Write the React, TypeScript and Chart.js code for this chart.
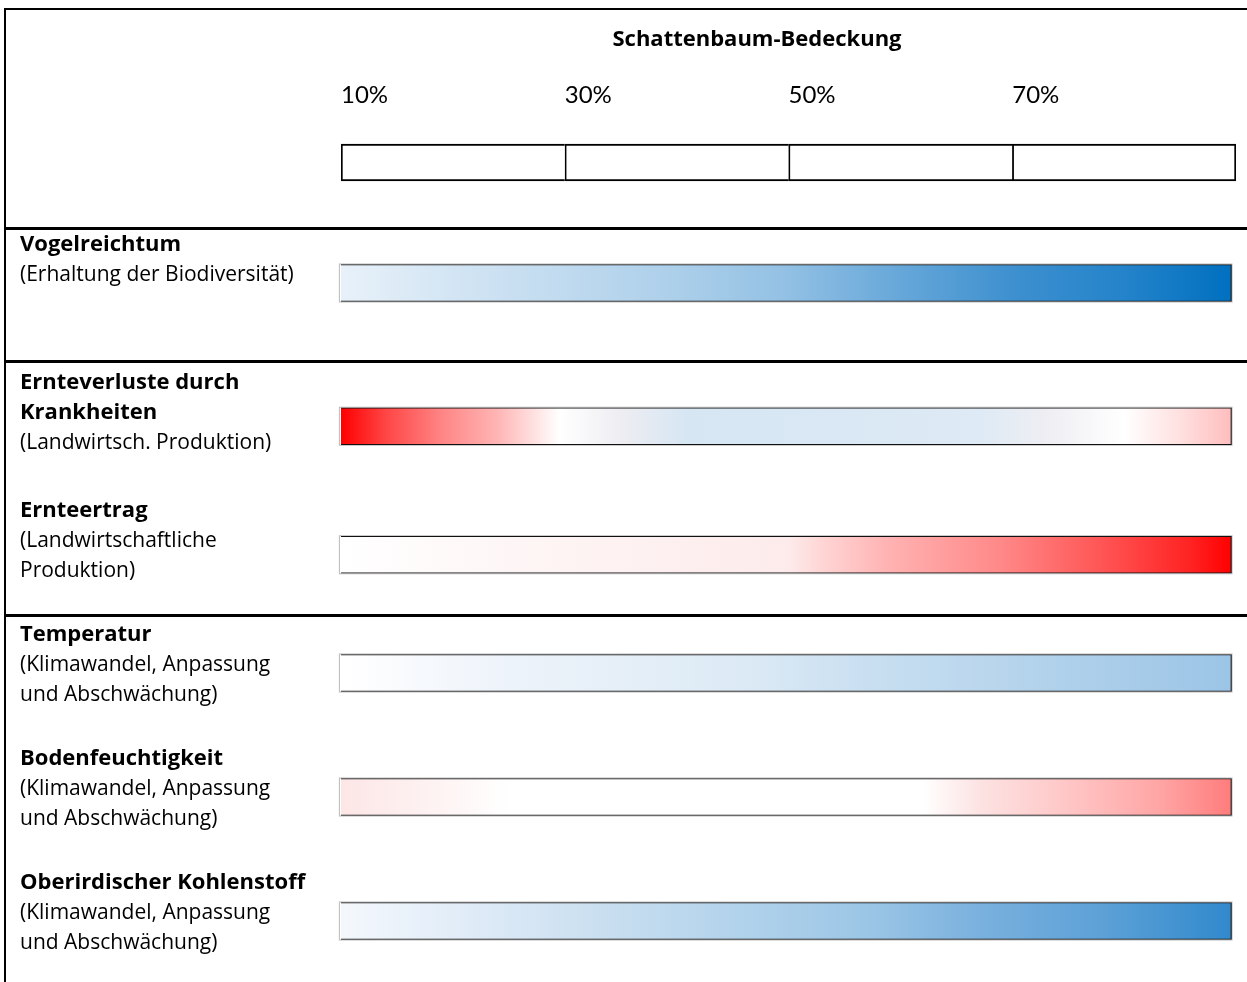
import React, { useEffect, useRef } from "react";
import { Chart, registerables } from "chart.js";

Chart.register(...registerables);

const TEXT_FONT = "'Open Sans', 'Noto Sans', sans-serif";
const TICK_FONT = "Lato, 'Open Sans', sans-serif";

// Shade-tree cover axis
const coverTitle = "Schattenbaum-Bedeckung";
const coverRange = [10, 90];
const coverTicks = [10, 30, 50, 70];
const coverTickLabels = ["10%", "30%", "50%", "70%"];
const coverBands: [number, number][] = [
  [10, 30],
  [30, 50],
  [50, 70],
  [70, 90],
];

// Extent of each indicator strip along the cover axis (%)
const indicatorSpan: [number, number] = [9.9, 89.6];

// Indicator names and their context
const indicatorTitles = [
  ["Vogelreichtum"],
  ["Ernteverluste durch", "Krankheiten"],
  ["Ernteertrag"],
  ["Temperatur"],
  ["Bodenfeuchtigkeit"],
  ["Oberirdischer Kohlenstoff"],
];
const indicatorNotes = [
  ["(Erhaltung der Biodiversität)"],
  ["(Landwirtsch. Produktion)"],
  ["(Landwirtschaftliche", "Produktion)"],
  ["(Klimawandel, Anpassung", "und Abschwächung)"],
  ["(Klimawandel, Anpassung", "und Abschwächung)"],
  ["(Klimawandel, Anpassung", "und Abschwächung)"],
];

// Colour of each indicator along the cover axis: [cover %, colour]
const birdStops: [number, string][] = [
  [10, "#E8F1F9"], [20, "#D3E5F4"], [30, "#C0DAEF"], [40, "#ACCFEA"],
  [50, "#92C0E4"], [60, "#66A7D9"], [70, "#3E90CF"], [80, "#2483CA"], [89.6, "#0070C0"],
];
const diseaseStops: [number, string][] = [
  [10, "#FF0000"], [14, "#FF4545"], [19, "#FF8585"], [24, "#FFB5B5"], [29.5, "#FFFFFF"],
  [35, "#EEEDF2"], [41, "#D6E6F3"], [55, "#D9E8F4"], [67, "#DEEAF5"], [73, "#EEEEF3"],
  [80, "#FFFFFF"], [85, "#FFE0E0"], [89.6, "#FFBDBD"],
];
const yieldStops: [number, string][] = [
  [10, "#FFFFFF"], [25, "#FEF6F6"], [50, "#FDEBEB"], [53, "#FFD5D5"], [59, "#FFB2B2"],
  [69, "#FF8888"], [78, "#FF5555"], [86, "#FF2222"], [89.6, "#FF0000"],
];
const temperatureStops: [number, string][] = [
  [10, "#FFFFFF"], [25, "#EDF3FA"], [46, "#DCEAF5"], [57, "#C9DFF1"],
  [70, "#B6D4EC"], [83, "#A4CAE8"], [89.6, "#9BC4E6"],
];
const moistureStops: [number, string][] = [
  [10, "#FDE6E6"], [18, "#FEF2F2"], [25, "#FFFFFF"], [62, "#FFFFFF"], [67, "#FDE3E3"],
  [75, "#FFC6C6"], [83, "#FFA6A6"], [89.6, "#FF7C7C"],
];
const carbonStops: [number, string][] = [
  [10, "#F4F8FC"], [20, "#E2EDF8"], [33, "#CADFF0"], [46, "#B1D2EB"], [57, "#9CC6E6"],
  [67, "#7AB1DE"], [78, "#5DA1D7"], [89.6, "#3189CC"],
];
const indicatorStops = [birdStops, diseaseStops, yieldStops, temperatureStops, moistureStops, carbonStops];

// Indicators grouped into the table's sections
const sectionRows = [[0], [1, 2], [3, 4, 5]];

const WIDTH = 1247;
const PLOT_LEFT = 341;
const PLOT_RIGHT_PAD = 11;
const BAR = 37;
const LINE = 30.3;

function stripGradient(chart: any, stops: [number, string][]) {
  const x = chart.scales?.x;
  if (!x || !chart.chartArea) return stops[0][1];
  const [a, b] = indicatorSpan;
  const g = chart.ctx.createLinearGradient(x.getPixelForValue(a), 0, x.getPixelForValue(b), 0);
  for (const [v, c] of stops) {
    g.addColorStop(Math.min(1, Math.max(0, (v - a) / (b - a))), c);
  }
  return g;
}

const baseOptions = {
  indexAxis: "y" as const,
  responsive: false,
  animation: false as const,
  devicePixelRatio: 1,
  events: [] as any[],
};

const headerTitlePlugin = {
  id: "coverTitle",
  afterDraw(chart: any) {
    const { ctx } = chart;
    ctx.save();
    ctx.fillStyle = "#000";
    ctx.font = `bold 22px ${TEXT_FONT}`;
    ctx.textAlign = "center";
    ctx.textBaseline = "middle";
    ctx.fillText(coverTitle, 757, 30);
    ctx.restore();
  },
};

// Soft grey rim around each strip
const stripRimPlugin = {
  id: "stripRim",
  beforeDatasetsDraw(chart: any) {
    const { ctx } = chart;
    ctx.save();
    ctx.strokeStyle = "rgba(0,0,0,0.28)";
    ctx.lineWidth = 1;
    chart.getDatasetMeta(0).data.forEach((el: any) => {
      const { x, y, base, height } = el.getProps(["x", "y", "base", "height"], true);
      const l = Math.min(x, base);
      const r = Math.max(x, base);
      ctx.strokeRect(l - 0.5, y - height / 2 - 0.5, r - l + 1, height + 1);
    });
    ctx.restore();
  },
};

function rowLabelPlugin(rows: number[], offset: number) {
  return {
    id: "rowLabels",
    afterDraw(chart: any) {
      const { ctx } = chart;
      const y = chart.scales.y;
      ctx.save();
      ctx.fillStyle = "#000";
      ctx.textAlign = "left";
      ctx.textBaseline = "middle";
      rows.forEach((row, i) => {
        let yy = y.getPixelForValue(i) + offset;
        ctx.font = `bold 22px ${TEXT_FONT}`;
        for (const line of indicatorTitles[row]) {
          ctx.fillText(line, 20, yy);
          yy += LINE;
        }
        ctx.font = `21px ${TEXT_FONT}`;
        for (const line of indicatorNotes[row]) {
          ctx.fillText(line, 20, yy);
          yy += LINE;
        }
      });
      ctx.restore();
    },
  };
}

function headerConfig(): any {
  return {
    type: "bar",
    data: {
      labels: [coverTitle],
      datasets: coverBands.map((band, i) => ({
        data: [band],
        backgroundColor: "#FFFFFF",
        borderColor: "#000000",
        borderWidth: { top: 2, bottom: 2, left: 2, right: i === coverBands.length - 1 ? 2 : 0 },
        borderSkipped: false,
        barThickness: BAR,
        grouped: false,
      })),
    },
    options: {
      ...baseOptions,
      layout: { padding: { left: PLOT_LEFT, right: PLOT_RIGHT_PAD, top: 70.6, bottom: 11.4 } },
      scales: {
        x: {
          type: "linear",
          position: "top",
          min: coverRange[0],
          max: coverRange[1],
          grid: { display: false, drawTicks: false },
          border: { display: false },
          afterBuildTicks: (scale: any) => {
            scale.ticks = coverTicks.map((value) => ({ value }));
          },
          ticks: {
            align: "start",
            padding: 0,
            color: "#000",
            autoSkip: false,
            maxRotation: 0,
            font: { family: TICK_FONT, size: 24 },
            callback: (v: any) => coverTickLabels[coverTicks.indexOf(Number(v))] ?? "",
          },
        },
        y: { display: false },
      },
      plugins: { legend: { display: false }, tooltip: { enabled: false } },
    },
    plugins: [headerTitlePlugin],
  };
}

function sectionConfig(rows: number[], labelOffset: number): any {
  return {
    type: "bar",
    data: {
      labels: rows.map((i) => indicatorTitles[i].join(" ")),
      datasets: [
        {
          data: rows.map(() => indicatorSpan),
          backgroundColor: (c: any) => stripGradient(c.chart, indicatorStops[rows[c.dataIndex]]),
          borderColor: "#111111",
          borderWidth: 1.2,
          borderSkipped: false,
          barThickness: BAR,
        },
      ],
    },
    options: {
      ...baseOptions,
      layout: { padding: { left: PLOT_LEFT, right: PLOT_RIGHT_PAD, top: 0, bottom: 0 } },
      scales: {
        x: { type: "linear", display: false, min: coverRange[0], max: coverRange[1] },
        y: { display: false },
      },
      plugins: { legend: { display: false }, tooltip: { enabled: false } },
    },
    plugins: [stripRimPlugin, rowLabelPlugin(rows, labelOffset)],
  };
}

function ChartPanel({ top, height, build }: { top: number; height: number; build: () => any }) {
  const ref = useRef<HTMLCanvasElement>(null);
  useEffect(() => {
    const chart = new Chart(ref.current as HTMLCanvasElement, build());
    return () => chart.destroy();
  }, []);
  return (
    <canvas
      ref={ref}
      width={WIDTH}
      height={height}
      style={{ position: "absolute", left: 0, top, width: WIDTH, height, display: "block", zIndex: 1 }}
    />
  );
}

function Rule({ left, top, width, height }: { left: number; top: number; width: number; height: number }) {
  return <div style={{ position: "absolute", left, top, width, height, background: "#000", zIndex: 2 }} />;
}

export default function App() {
  return (
    <div
      style={{
        position: "absolute",
        left: 0,
        top: 0,
        width: WIDTH,
        height: 982,
        overflow: "hidden",
        background: "#fff",
      }}
    >
      <ChartPanel top={10} height={217} build={headerConfig} />
      <ChartPanel top={230} height={106} build={() => sectionConfig(sectionRows[0], -38)} />
      <ChartPanel top={362} height={257} build={() => sectionConfig(sectionRows[1], -44)} />
      <ChartPanel top={611} height={372} build={() => sectionConfig(sectionRows[2], -38.7)} />
      <Rule left={4} top={8} width={1243} height={2} />
      <Rule left={4} top={8} width={2} height={974} />
      <Rule left={4} top={227} width={1243} height={3} />
      <Rule left={4} top={360} width={1243} height={3} />
      <Rule left={4} top={614} width={1243} height={3} />
    </div>
  );
}
